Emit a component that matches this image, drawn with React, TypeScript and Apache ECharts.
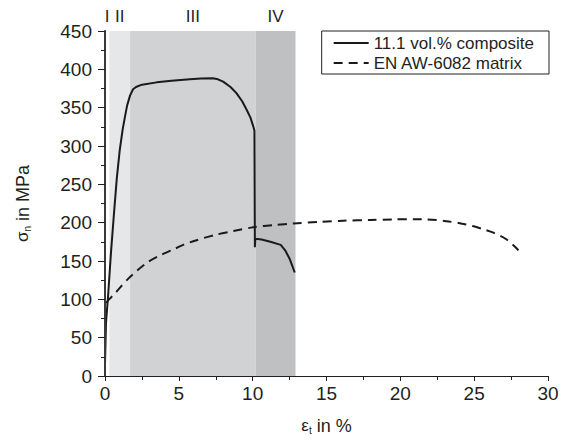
import React, { useEffect, useRef } from "react";
import * as echarts from "echarts";

// Composite (11.1 vol.%) curve
const compositeStrain = [0.0, 0.07, 0.2, 0.4, 0.6, 0.8, 1.0, 1.2, 1.35, 1.5, 1.7, 1.9, 2.1, 2.5, 3.5, 4.5, 5.75, 6.5, 7.3, 7.65, 8.0, 8.5, 8.9, 9.3, 9.6, 9.85, 10.05, 10.12, 10.15, 10.18, 10.6, 11.2, 11.9, 12.2, 12.5, 12.85];
const compositeStress = [15, 70, 102, 160, 210, 258, 295, 322, 338, 353, 366, 374, 377, 380, 383, 385, 387, 388, 388.5, 387, 384, 377, 369, 358, 347, 337, 325, 320, 168, 179, 178, 175, 171, 164, 153, 135];

// EN AW-6082 matrix curve
const matrixStrain = [0.1, 0.22, 0.6, 1.0, 1.58, 2.2, 2.93, 3.7, 4.51, 5.3, 6.09, 7.45, 8.7, 10.04, 11.5, 12.75, 14.55, 16.13, 18.0, 19.5, 21.0, 21.8, 23.1, 24.1, 24.9, 25.7, 26.3, 27.2, 28.0];
const matrixStress = [95, 99, 106, 115, 127, 138, 149, 157, 164, 171, 176.5, 184, 189, 194, 197, 199, 201, 202.6, 203.5, 204.3, 204.5, 204.3, 202, 199, 195.6, 191, 187, 178, 164];

// Deformation stages
const stageNames = ["I", "II", "III", "IV"];
const stageStart = [0, 0.3, 1.7, 10.2];
const stageEnd = [0.3, 1.7, 10.2, 12.9];
const stageColors = ["rgba(255,255,255,0)", "#e6e7e8", "#d1d2d4", "#bfc0c2"];

const seriesNames = ["11.1 vol.% composite", "EN AW-6082 matrix"];

const FONT = "'Liberation Sans', Arial, sans-serif";
const INK = "#231f20";

export default function App() {
  const ref = useRef<HTMLDivElement>(null);
  useEffect(() => {
    if (!ref.current) return;
    const chart = echarts.init(ref.current, undefined, { renderer: "svg" });
    const compData = compositeStrain.map((x, i) => [x, compositeStress[i]]);
    const matData = matrixStrain.map((x, i) => [x, matrixStress[i]]);
    const areas = stageNames.map((n, i) => [
      { name: n, xAxis: stageStart[i], yAxis: 0, itemStyle: { color: stageColors[i] } },
      { xAxis: stageEnd[i], yAxis: 450 },
    ]);
    const axisLine = { show: true, lineStyle: { color: INK, width: 1 } };
    const nameRich = {
      s: { fontSize: 17, color: INK, fontFamily: FONT },
      sub: { fontSize: 10, color: INK, fontFamily: FONT, padding: [9, 0, 0, 0] },
      a: { fontSize: 18, color: INK, fontFamily: FONT },
    };
    chart.setOption({
      animation: false,
      textStyle: { fontFamily: FONT },
      grid: { left: 105, right: 18, top: 31, bottom: 66 },
      legend: {
        data: seriesNames,
        orient: "vertical",
        right: 17,
        top: 31,
        itemWidth: 35,
        itemHeight: 14,
        itemGap: 0,
        itemTextGap: 3,
        padding: [2, 15, 1, 11],
        borderColor: INK,
        borderWidth: 1,
        backgroundColor: "#fff",
        itemStyle: { opacity: 0 },
        lineStyle: { opacity: 1, width: 2 },
        textStyle: { fontSize: 17, color: INK, fontFamily: FONT, lineHeight: 20 },
        z: 20,
      },
      xAxis: [
        {
          type: "value",
          position: "bottom",
          min: 0,
          max: 30,
          interval: 5,
          z: 10,
          axisLine,
          axisTick: { show: true, inside: false, length: 5, lineStyle: { color: INK } },
          minorTick: { show: true, splitNumber: 2, length: 3, lineStyle: { color: INK } },
          axisLabel: { fontSize: 19, color: INK, margin: 8, fontFamily: FONT },
          splitLine: { show: false },
          name: "{s|ε}{sub|t}{a| in %}",
          nameLocation: "middle",
          nameGap: 40,
          nameTextStyle: { rich: nameRich },
        },
        {
          type: "value",
          position: "top",
          min: 0,
          max: 30,
          interval: 2.5,
          z: 10,
          axisLine,
          axisTick: { show: true, inside: true, length: 4, lineStyle: { color: INK } },
          axisLabel: { show: false },
          splitLine: { show: false },
        },
      ],
      yAxis: [
        {
          type: "value",
          position: "left",
          min: 0,
          max: 450,
          interval: 50,
          z: 10,
          axisLine,
          axisTick: { show: true, inside: false, length: 7, lineStyle: { color: INK } },
          minorTick: { show: true, splitNumber: 2, length: 4, lineStyle: { color: INK } },
          axisLabel: { fontSize: 19, color: INK, margin: 13, fontFamily: FONT },
          splitLine: { show: false },
          name: "{s|σ}{sub|n}{a| in MPa}",
          nameLocation: "middle",
          nameRotate: 90,
          nameGap: 73,
          nameTextStyle: { rich: nameRich },
        },
        {
          type: "value",
          position: "right",
          min: 0,
          max: 450,
          interval: 25,
          z: 10,
          axisLine: { show: true, lineStyle: { color: "#3a3a3a", width: 2 } },
          axisTick: { show: true, inside: true, length: 4, lineStyle: { color: INK } },
          axisLabel: { show: false },
          splitLine: { show: false },
        },
      ],
      series: [
        {
          type: "line",
          name: "stages",
          data: [],
          z: 1,
          silent: true,
          markArea: {
            silent: true,
            label: {
              show: true,
              position: "top",
              distance: 6,
              fontSize: 17,
              color: INK,
              fontFamily: FONT,
            },
            data: areas,
          },
        },
        {
          type: "line",
          name: seriesNames[0],
          data: compData,
          showSymbol: false,
          symbol: "none",
          z: 3,
          lineStyle: { color: "#1a1a1a", width: 2 },
          itemStyle: { color: "#1a1a1a" },
        },
        {
          type: "line",
          name: seriesNames[1],
          data: matData,
          showSymbol: false,
          symbol: "none",
          smooth: 0.3,
          z: 3,
          lineStyle: { color: "#1a1a1a", width: 2, type: [9, 6] },
          itemStyle: { color: "#1a1a1a" },
        },
      ],
    });
    return () => chart.dispose();
  }, []);
  return (
    <div
      ref={ref}
      style={{ position: "fixed", left: 0, top: 0, width: 566, height: 442, background: "#fff" }}
    />
  );
}
